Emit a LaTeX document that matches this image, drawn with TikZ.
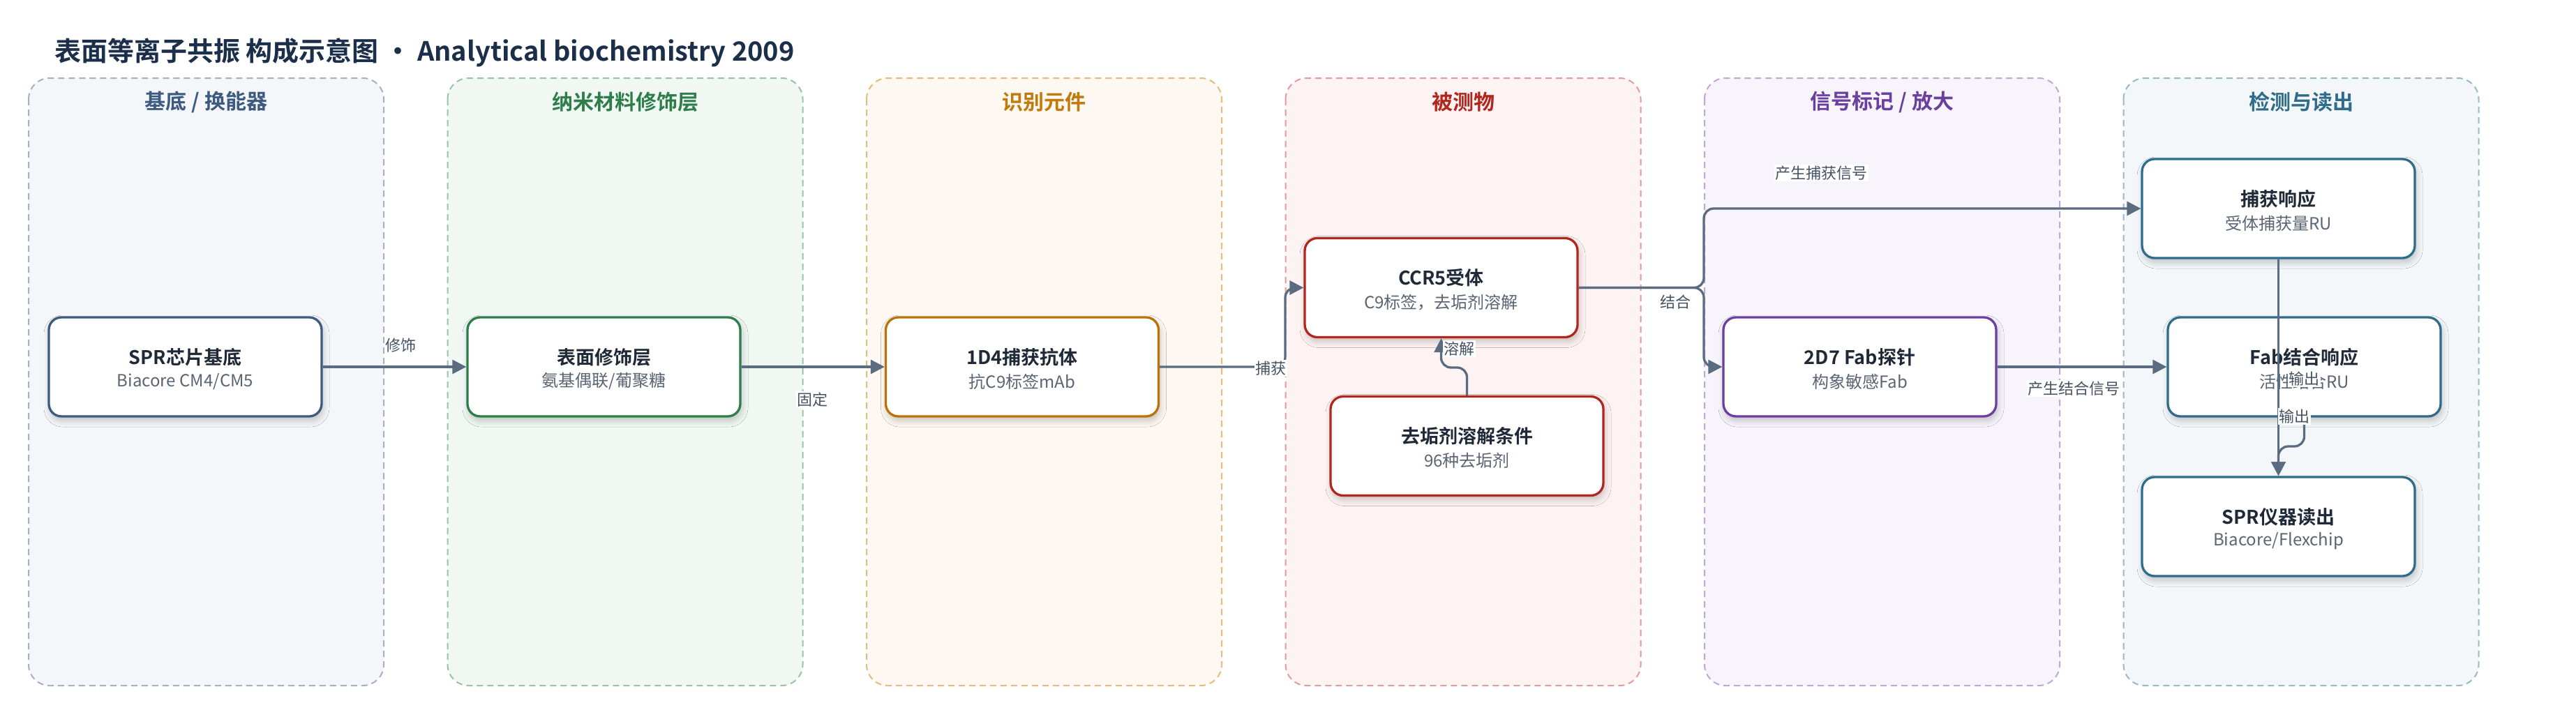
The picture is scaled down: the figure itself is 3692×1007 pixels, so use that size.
\documentclass[tikz,border=0pt]{standalone}
\usepackage{fontspec}
\setmainfont{Noto Sans CJK SC}[BoldFont={Noto Sans CJK SC Bold}]
\usetikzlibrary{arrows.meta,shadows.blur,calc}
\definecolor{titlec}{HTML}{1C2F4A}
\definecolor{ttlc}{HTML}{1F2937}
\definecolor{subc}{HTML}{5B6473}
\definecolor{lblc}{HTML}{465263}
\definecolor{connc}{HTML}{5B6B80}
\definecolor{lAf}{HTML}{F4F6FA}\definecolor{lAb}{HTML}{A3B1C6}\definecolor{lAh}{HTML}{3D5A80}
\definecolor{lBf}{HTML}{F1F8F3}\definecolor{lBb}{HTML}{96C4A4}\definecolor{lBh}{HTML}{2E7D4A}
\definecolor{lCf}{HTML}{FDF8F1}\definecolor{lCb}{HTML}{E8BB7C}\definecolor{lCh}{HTML}{C17A0C}
\definecolor{lDf}{HTML}{FDF3F2}\definecolor{lDb}{HTML}{E49B9B}\definecolor{lDh}{HTML}{B3261E}
\definecolor{lEf}{HTML}{F7F4FB}\definecolor{lEb}{HTML}{BFA6DD}\definecolor{lEh}{HTML}{6A3FA0}
\definecolor{lFf}{HTML}{F3F7F9}\definecolor{lFb}{HTML}{98B9C8}\definecolor{lFh}{HTML}{2F6B8A}
\definecolor{nA}{HTML}{3D5A80}
\definecolor{nB}{HTML}{2E7D4A}
\definecolor{nC}{HTML}{B8730A}
\definecolor{nD}{HTML}{B3261E}
\definecolor{nE}{HTML}{6A3FA0}
\definecolor{nF}{HTML}{2F6B8A}
\begin{document}
\begin{tikzpicture}[x=1pt,y=-1pt,
  lane/.style={line width=2pt, dash pattern=on 9pt off 6pt, rounded corners=30pt},
  hdr/.style={font=\fontsize{30pt}{36pt}\selectfont\bfseries, inner sep=0pt},
  card/.style={rectangle, rounded corners=18pt, line width=3.3pt, fill=white,
    minimum width=391pt, minimum height=142pt, inner sep=0pt,
    blur shadow={shadow xshift=2pt, shadow yshift=-6pt, shadow blur radius=9pt, shadow opacity=22}},
  ttl/.style={font=\fontsize{27pt}{32pt}\selectfont\bfseries, text=ttlc, inner sep=0pt},
  sub/.style={font=\fontsize{24pt}{29pt}\selectfont, text=subc, inner sep=0pt},
  conn/.style={draw=connc, line width=3.3pt, rounded corners=14pt, -{Triangle[length=20pt,width=20pt]}},
  elbl/.style={font=\fontsize{22pt}{26pt}\selectfont, text=lblc, fill=white, inner sep=1.5pt}
]
\useasboundingbox (0,0) rectangle (3692,1007);
\fill[white] (0,0) rectangle (3692,1007);

% title
\node[anchor=west, inner sep=0pt, text=titlec, font=\fontsize{38pt}{44pt}\selectfont\bfseries] (title) at (78,75)
  {表面等离子共振 构成示意图 · Analytical biochemistry 2009};

% lanes
\draw[lane, draw=lAb, fill=lAf] (41,112) rectangle (550,983);
\draw[lane, draw=lBb, fill=lBf] (641.5,112) rectangle (1150.5,983);
\draw[lane, draw=lCb, fill=lCf] (1242,112) rectangle (1751,983);
\draw[lane, draw=lDb, fill=lDf] (1842.5,112) rectangle (2351.5,983);
\draw[lane, draw=lEb, fill=lEf] (2443,112) rectangle (2952,983);
\draw[lane, draw=lFb, fill=lFf] (3043.5,112) rectangle (3552.5,983);

\node[hdr, text=lAh] (hA) at (295.5,146) {基底 / 换能器};
\node[hdr, text=lBh] (hB) at (896,146) {纳米材料修饰层};
\node[hdr, text=lCh] (hC) at (1496.5,146) {识别元件};
\node[hdr, text=lDh] (hD) at (2097,146) {被测物};
\node[hdr, text=lEh] (hE) at (2697.5,146) {信号标记 / 放大};
\node[hdr, text=lFh] (hF) at (3298,146) {检测与读出};

% cards
\node[card, draw=nA] (chip) at (265.5,526) {};
\node[card, draw=nB] (surf) at (865.5,526) {};
\node[card, draw=nC] (ab) at (1465,526) {};
\node[card, draw=nD] (ccr) at (2065.5,412.5) {};
\node[card, draw=nD] (det) at (2102.5,639.5) {};
\node[card, draw=nE] (fab) at (2665.5,526) {};
\node[card, draw=nF] (cap) at (3265.5,299) {};
\node[card, draw=nF] (fres) at (3302.5,526) {};
\node[card, draw=nF] (spr) at (3265.5,755) {};

\foreach \n/\t/\s in {chip/SPR芯片基底/Biacore CM4\slash CM5,
                      surf/表面修饰层/氨基偶联\slash 葡聚糖,
                      ab/1D4捕获抗体/抗C9标签mAb,
                      ccr/CCR5受体/C9标签，去垢剂溶解,
                      det/去垢剂溶解条件/96种去垢剂,
                      fab/2D7 Fab探针/构象敏感Fab,
                      cap/捕获响应/受体捕获量RU,
                      fres/Fab结合响应/活性结合RU,
                      spr/SPR仪器读出/Biacore\slash Flexchip}{
  \node[ttl] (\n-t) at ($(\n.center)+(0,-14)$) {\t};
  \node[sub] (\n-s) at ($(\n.center)+(0,21)$) {\s};
}

% connectors
\draw[conn] (chip.east) -- (surf.west);
\draw[conn] (surf.east) -- (ab.west);
\draw[conn] (ab.east) -- (1842,526) -- (1842,412.5) -- (ccr.west);
\draw[conn] (det.north) -- (2102.5,527) -- (2065.5,527) -- (ccr.south);
\draw[conn] (ccr.east) -- (2442,412.5) -- (2442,299) -- (cap.west);
\draw[conn] (ccr.east) -- (2442,412.5) -- (2442,526) -- (fab.west);
\draw[conn] (fab.east) -- (fres.west);
\draw[conn] (cap.south) -- (spr.north);
\draw[conn] (fres.south) -- (3302.5,640) -- (3265.5,640) -- (spr.north);

% edge labels
\node[elbl] (l1) at (574,495) {修饰};
\node[elbl] (l2) at (1164,573) {固定};
\node[elbl] (l3) at (1821,528) {捕获};
\node[elbl] (l4) at (2091,500) {溶解};
\node[elbl] (l5) at (2401,433) {结合};
\node[elbl] (l6) at (2610,248) {产生捕获信号};
\node[elbl] (l7) at (2972,557) {产生结合信号};
\node[elbl] (l8) at (3302,543) {输出};
\node[elbl] (l9) at (3288,597) {输出};
\end{tikzpicture}
\end{document}
